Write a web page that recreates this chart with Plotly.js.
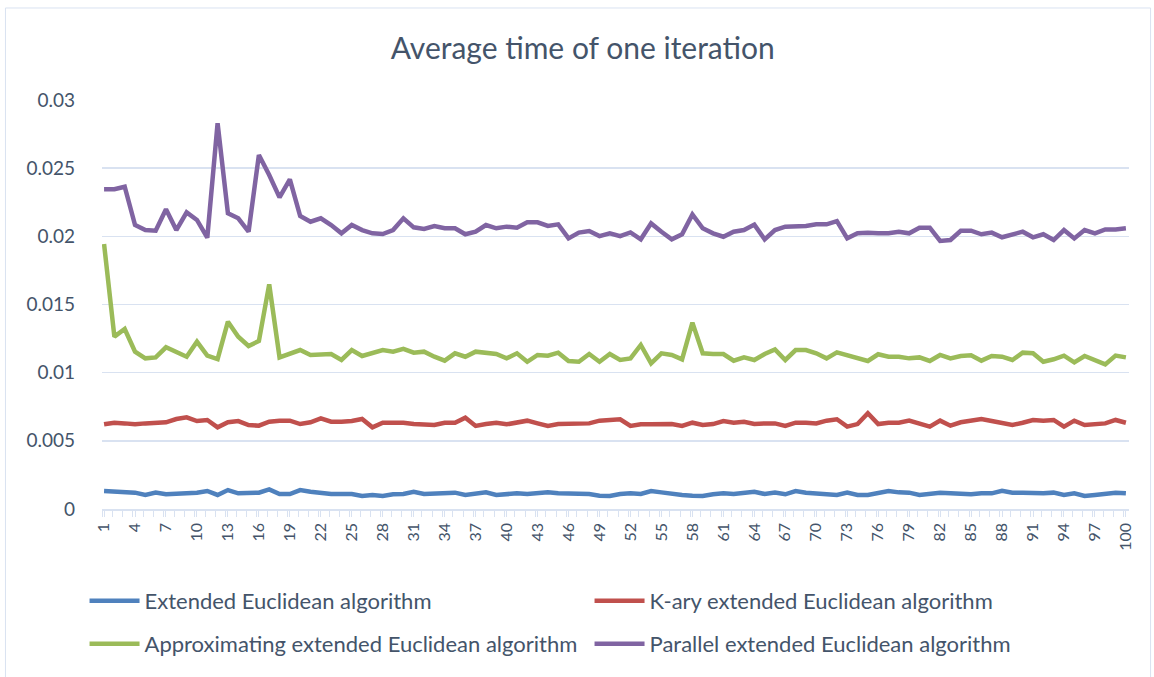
<!DOCTYPE html>
<html>
<head>
<meta charset="utf-8">
<script src="https://cdn.plot.ly/plotly-3.0.1.min.js"></script>
<style>
html,body{margin:0;padding:0;background:#fff;}
#chart{width:1154px;height:677px;}
</style>
</head>
<body>
<div id="chart"></div>
<script>
var iterations = [];
for (var i = 1; i <= 100; i++) iterations.push(i);

var extended = [0.00132,0.00127,0.0012,0.0012,0.00103,0.0012,0.00108,0.00115,0.00115,0.0012,
0.00132,0.00103,0.00139,0.00115,0.0012,0.0012,0.00144,0.0011,0.0011,0.00139,
0.00127,0.00115,0.0011,0.0011,0.0011,0.00095,0.00103,0.00095,0.00108,0.0011,
0.00127,0.0011,0.00115,0.00115,0.0012,0.00103,0.00115,0.00122,0.00103,0.0011,
0.00115,0.0011,0.00115,0.00122,0.00115,0.00115,0.00115,0.0011,0.00098,0.00095,
0.0011,0.00115,0.0011,0.00132,0.00122,0.0011,0.00103,0.00098,0.00095,0.00108,
0.00115,0.0011,0.00115,0.00127,0.0011,0.0012,0.00108,0.00132,0.0012,0.00115,
0.00115,0.00103,0.0012,0.00103,0.00103,0.00115,0.00132,0.00122,0.0012,0.00103,
0.00115,0.0012,0.00115,0.0011,0.00108,0.00115,0.00115,0.00134,0.0012,0.0012,
0.00115,0.00115,0.0012,0.00103,0.00115,0.00095,0.00103,0.00115,0.0012,0.00115];

var kary = [0.00621,0.00633,0.00628,0.00621,0.00628,0.00633,0.00636,0.0066,0.00672,0.00645,
0.00653,0.00599,0.00636,0.00645,0.00616,0.00611,0.0064,0.00648,0.00648,0.00623,
0.00636,0.00665,0.0064,0.0064,0.00645,0.0066,0.00599,0.00633,0.00636,0.00633,
0.00623,0.00616,0.00616,0.00633,0.00633,0.0067,0.00609,0.00623,0.00633,0.00621,
0.00636,0.00648,0.00628,0.00609,0.00623,0.00623,0.00628,0.00628,0.00648,0.00653,
0.00658,0.00609,0.00621,0.00621,0.00623,0.00623,0.00609,0.00633,0.00616,0.00623,
0.00645,0.00633,0.0064,0.00623,0.00628,0.00628,0.00609,0.00633,0.00633,0.00628,
0.00648,0.00658,0.00604,0.00623,0.00702,0.00623,0.00633,0.00633,0.00648,0.00628,
0.00604,0.00648,0.00611,0.00636,0.00645,0.0066,0.00645,0.00633,0.00616,0.00633,
0.00653,0.00648,0.00653,0.00604,0.00648,0.00616,0.00623,0.00628,0.00653,0.00633];

var approximating = [0.01944,0.01264,0.0132,0.01154,0.01105,0.01112,0.01186,0.01147,0.01117,0.01227,
0.01125,0.011,0.01374,0.01264,0.01196,0.01232,0.01648,0.01112,0.01142,0.01166,
0.0113,0.01137,0.01137,0.01093,0.01166,0.01122,0.01142,0.01166,0.01154,0.01174,
0.01147,0.01154,0.01117,0.01088,0.01142,0.01117,0.01154,0.01147,0.01137,0.01105,
0.01142,0.0108,0.0113,0.01125,0.01147,0.01086,0.0108,0.01137,0.0108,0.01137,
0.01093,0.01105,0.01203,0.01069,0.01142,0.0113,0.01098,0.01367,0.01142,0.01137,
0.01137,0.01088,0.01112,0.01093,0.01137,0.01171,0.01093,0.01166,0.01166,0.01142,
0.01105,0.01149,0.0113,0.0111,0.01086,0.01135,0.01117,0.01117,0.01105,0.01112,
0.01086,0.0113,0.01105,0.01122,0.01127,0.01088,0.01122,0.01117,0.01093,0.01147,
0.01142,0.0108,0.01098,0.01125,0.01076,0.01122,0.01093,0.01061,0.01125,0.01112];

var parallel = [0.02345,0.02345,0.02364,0.02083,0.02046,0.02041,0.02198,0.02046,0.02176,0.0212,
0.0199,0.02829,0.02169,0.02132,0.02034,0.02597,0.0245,0.02286,0.02418,0.02149,
0.02107,0.02132,0.02083,0.02022,0.02083,0.02046,0.02022,0.02017,0.02046,0.02132,
0.02066,0.02054,0.02076,0.02059,0.02059,0.02015,0.02034,0.02083,0.02059,0.02071,
0.02063,0.02103,0.02103,0.02076,0.02088,0.01985,0.02027,0.02039,0.02002,0.02022,
0.02002,0.02029,0.01978,0.02095,0.02034,0.01978,0.02015,0.02161,0.02059,0.02022,
0.01997,0.02034,0.02046,0.02086,0.01978,0.02046,0.02071,0.02071,0.02076,0.02088,
0.02088,0.02112,0.01985,0.02022,0.02027,0.02022,0.02022,0.02034,0.02022,0.02063,
0.02063,0.01966,0.01973,0.02041,0.02041,0.02015,0.02027,0.01993,0.0201,0.02034,
0.01993,0.02015,0.01973,0.02046,0.01985,0.02046,0.02022,0.02051,0.02051,0.02059];

var seriesNames = ["Extended Euclidean algorithm","K-ary extended Euclidean algorithm",
  "Approximating extended Euclidean algorithm","Parallel extended Euclidean algorithm"];
var seriesColors = ["#4F81BD","#C0504D","#9BBB59","#8064A2"];
var yTickVals = [0,0.005,0.01,0.015,0.02,0.025,0.03];
var yTickText = ["0","0.005","0.01","0.015","0.02","0.025","0.03"];

var textColor = "#44546A";
var fontFam = "Lato, 'Open Sans', sans-serif";
var allSeries = [extended, kary, approximating, parallel];
var legendIds = ["legend","legend","legend2","legend2"];

var traces = allSeries.map(function(s, k){
  return {
    x: iterations, y: s, type: "scatter", mode: "lines",
    name: seriesNames[k], legend: legendIds[k],
    line: {color: seriesColors[k], width: 4.5, shape: "linear"},
    hoverinfo: "x+y"
  };
});

var legendCommon = {
  orientation: "h", xanchor: "left", yanchor: "middle",
  entrywidth: 440, entrywidthmode: "pixels",
  font: {family: fontFam, size: 22, color: textColor},
  itemwidth: 50, bgcolor: "rgba(0,0,0,0)", traceorder: "normal"
};

var layout = {
  width: 1154, height: 677,
  paper_bgcolor: "#fff", plot_bgcolor: "#fff",
  margin: {l: 102, r: 25, t: 100, b: 168},
  title: {text: "Average time of one iteration", x: 0.505, xanchor: "center", y: 0.928, yanchor: "middle",
    font: {family: fontFam, size: 30, color: textColor}},
  showlegend: true,
  legend: Object.assign({}, legendCommon, {x: -0.017, y: -0.225}),
  legend2: Object.assign({}, legendCommon, {x: -0.017, y: -0.33}),
  xaxis: {
    range: [0.8, 100.3], showgrid: false, zeroline: false,
    tickmode: "linear", tick0: 1, dtick: 3, tickangle: -90,
    ticks: "outside", ticklen: 6, tickcolor: "#D9E2F1", tickwidth: 1,
    showline: true, linecolor: "#D9E2F1", linewidth: 1.5,
    tickfont: {family: fontFam, size: 16, color: textColor},
    minor: {dtick: 1, tick0: 0.8, ticks: "outside", ticklen: 6, tickcolor: "#D9E2F1", tickwidth: 1}
  },
  yaxis: {
    range: [0, 0.03], tickmode: "array", tickvals: yTickVals, ticktext: yTickText,
    showgrid: true, gridcolor: "#D9E2F1", gridwidth: 1.5, zeroline: false,
    showline: false, ticks: "", ticklabelstandoff: 26,
    tickfont: {family: fontFam, size: 19, color: textColor}
  },
  shapes: [{type: "rect", xref: "paper", yref: "paper", x0: -0.094, x1: 1.021, y0: -0.49, y1: 1.225,
    line: {color: "#D9E2F1", width: 1}, fillcolor: "rgba(0,0,0,0)", layer: "below"}]
};

Plotly.newPlot("chart", traces, layout, {displayModeBar: false, staticPlot: true});
</script>
</body>
</html>
